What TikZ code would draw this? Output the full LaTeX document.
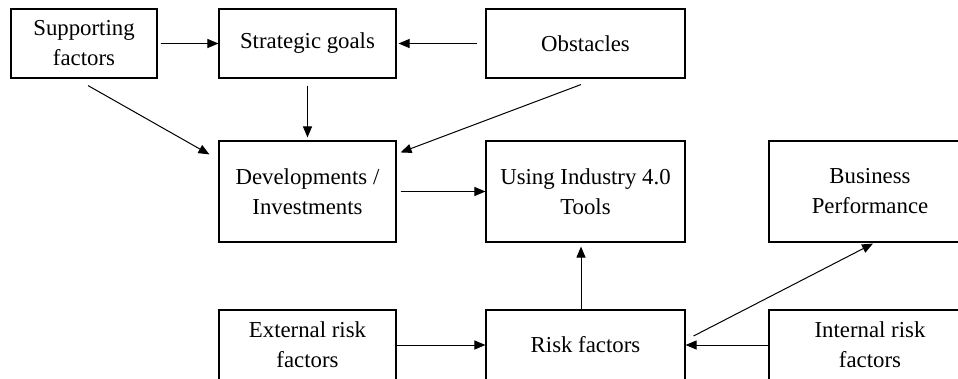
\documentclass[tikz,border=0pt]{standalone}
\usepackage{fontspec}
\setmainfont{Liberation Serif}
\usetikzlibrary{arrows.meta}
\begin{document}
\begin{tikzpicture}[x=1pt,y=-1pt,
  box/.style={draw,line width=1.1pt,inner sep=0pt,align=center,
    font=\fontsize{22.8}{30}\selectfont},
  arr/.style={line width=1pt,-{Triangle[length=11pt,width=9pt]}}]
\useasboundingbox (0,0) rectangle (958,378);
\clip (0,0) rectangle (958,378);
\node[box,minimum width=146pt,minimum height=69pt] (sup) at (84,43.5) {Supporting\\factors};
\node[box,minimum width=177pt,minimum height=69pt] (strat) at (307.5,43.5) {Strategic goals};
\node[box,minimum width=199pt,minimum height=69pt] (obs) at (585.5,43.5) {Obstacles};
\node[box,minimum width=177pt,minimum height=101pt] (dev) at (307.5,191.5) {Developments /\\Investments};
\node[box,minimum width=199pt,minimum height=101pt] (use) at (585.5,191.5) {Using Industry 4.0\\Tools};
\node[box,minimum width=202pt,minimum height=101pt] (bus) at (870,191.5) {Business\\Performance};
\node[box,minimum width=177pt,minimum height=70pt] (ext) at (307.5,345) {External risk\\factors};
\node[box,minimum width=199pt,minimum height=70pt] (risk) at (585.5,345) {Risk factors};
\node[box,minimum width=202pt,minimum height=70pt] (int) at (870,345) {Internal risk\\factors};

\draw[arr,shorten <=3pt] (sup.east) -- (strat.west);
\draw[arr,shorten <=8pt,shorten >=2pt] (obs.west) -- (strat.east);
\draw[arr,shorten <=7pt,shorten >=3pt] (strat.south) -- (dev.north);
\draw[arr] ([xshift=4pt,yshift=-7pt]sup.south) -- ([xshift=-9pt,yshift=-14pt]dev.north west);
\draw[arr] ([xshift=-4.5pt,yshift=-6pt]obs.south) -- ([xshift=4pt,yshift=-12pt]dev.north east);
\draw[arr,shorten <=4pt] (dev.east) -- (use.west);
\draw[arr,shorten >=4pt] ([xshift=-4.5pt]risk.north) -- ([xshift=-4.5pt]use.south);
\draw[arr] ([xshift=8pt,yshift=9pt]risk.east) -- ([xshift=3pt,yshift=-1pt]bus.south);
\draw[arr] (ext.east) -- (risk.west);
\draw[arr] (int.west) -- (risk.east);
\end{tikzpicture}
\end{document}
